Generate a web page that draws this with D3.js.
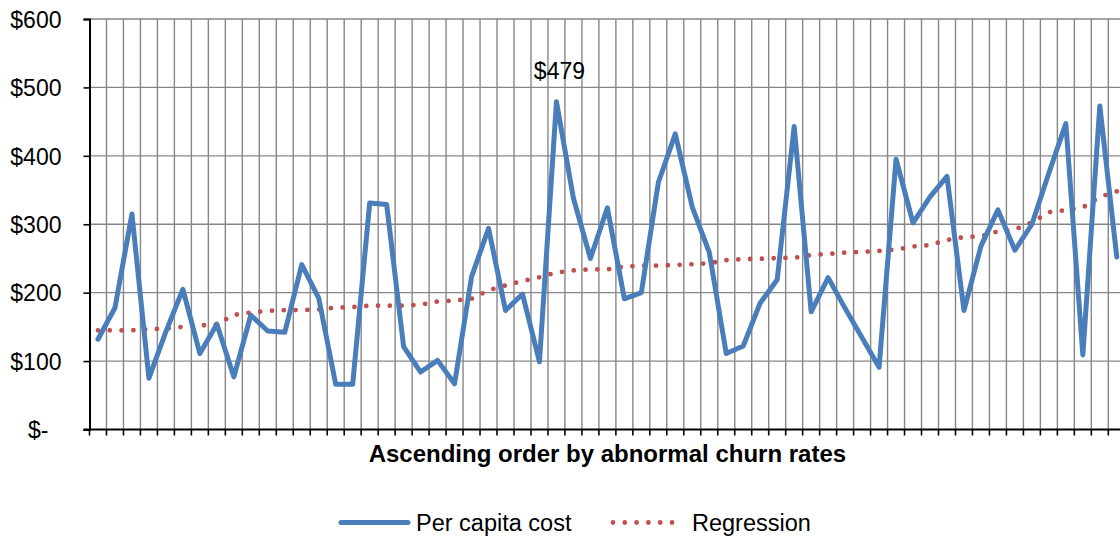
<!DOCTYPE html>
<html>
<head>
<meta charset="utf-8">
<script src="https://cdn.jsdelivr.net/npm/d3@7/dist/d3.min.js"></script>
<style>
  html, body { margin: 0; padding: 0; background: #fff; }
  svg { display: block; font-family: "Liberation Sans", Arial, sans-serif; }
</style>
</head>
<body>
<svg id="chart" width="1120" height="537"></svg>
<script>
// Per capita cost for each group, ordered by ascending abnormal churn rate
const perCapitaCost = [132, 178, 315, 75, 143, 205, 111, 154, 77, 167,
  144, 142, 241, 192, 66, 66, 331, 329, 121, 84,
  101, 67, 223, 294, 174, 198, 99, 479, 338, 250,
  324, 191, 200, 361, 432, 325, 259, 111, 122, 185,
  219, 443, 172, 222, 177, 134, 91, 395, 302, 340,
  370, 174, 268, 321, 262, 300, 375, 447, 109, 473, 252];

// Fitted values from the regression on churn rate
const regression = [145, 145, 145, 146.5, 147.5, 150, 152, 153.5, 167.5, 171,
  173.5, 174.5, 174.5, 175.5, 178, 179, 181, 181, 181, 182.5,
  187, 188.5, 191, 203.5, 210.5, 217, 222.5, 229.5, 232.5, 234,
  234, 238, 239.5, 239.5, 240.5, 241.5, 243, 247.5, 249, 249.5,
  250.5, 251, 255, 256.5, 258.5, 259.5, 261, 263, 267.5, 269.5,
  277, 281, 282.5, 289.5, 292.5, 302.5, 317.5, 320.5, 324.5, 340, 348];

const yTicks = [0, 100, 200, 300, 400, 500, 600];
const seriesNames = ["Per capita cost", "Regression"];
const xTitle = "Ascending order by abnormal churn rates";
const labelledIndex = 27; // the highest cost gets a value label

const colors = { cost: "#4a7ebb", reg: "#c0504d", grid: "#878787" };

const svg = d3.select("#chart");
const plotLeft = 89.5, plotTop = 19, plotBottom = 429.5, step = 16.98;

const x = d3.scaleBand()
  .domain(d3.range(perCapitaCost.length))
  .range([plotLeft, plotLeft + perCapitaCost.length * step])
  .padding(0);
const cx = i => x(i) + x.bandwidth() / 2;

const y = d3.scaleLinear().domain([0, 600]).range([plotBottom, plotTop]);

const fmt = v => v === 0 ? "$-" : "$" + v;

// Horizontal gridlines
svg.append("g").selectAll("line")
  .data(yTicks.filter(t => t > 0))
  .join("line")
  .attr("x1", plotLeft).attr("x2", x.range()[1])
  .attr("y1", d => y(d)).attr("y2", d => y(d))
  .attr("stroke", colors.grid).attr("stroke-width", 1.4);

// Vertical gridlines on category boundaries
svg.append("g").selectAll("line")
  .data(d3.range(1, perCapitaCost.length + 1))
  .join("line")
  .attr("x1", d => plotLeft + d * x.step()).attr("x2", d => plotLeft + d * x.step())
  .attr("y1", plotTop).attr("y2", plotBottom)
  .attr("stroke", colors.grid).attr("stroke-width", 1.4);

// Y axis
const yAxis = svg.append("g")
  .attr("transform", `translate(${plotLeft},0)`)
  .call(d3.axisLeft(y).tickValues(yTicks).tickFormat(fmt).tickSize(6).tickPadding(22));
yAxis.select(".domain").attr("stroke", "#000").attr("stroke-width", 2);
yAxis.selectAll(".tick line").attr("stroke", "#000").attr("stroke-width", 1.6);
yAxis.selectAll(".tick text")
  .attr("fill", "#000")
  .style("font-size", "23px")
  .style("font-family", "'Liberation Sans', Arial, sans-serif")
  .attr("dy", "0.36em")
  .attr("dx", d => d === 0 ? -13 : 0);

// X axis with ticks on category boundaries
const xAxisG = svg.append("g").attr("transform", `translate(0,${plotBottom})`);
xAxisG.append("line")
  .attr("x1", plotLeft - 6).attr("x2", x.range()[1])
  .attr("stroke", "#000").attr("stroke-width", 2);
xAxisG.selectAll("line.tk")
  .data(d3.range(0, perCapitaCost.length + 1))
  .join("line").attr("class", "tk")
  .attr("x1", d => plotLeft + d * x.step()).attr("x2", d => plotLeft + d * x.step())
  .attr("y1", 0).attr("y2", 6)
  .attr("stroke", "#000").attr("stroke-width", 1.6);

// Regression (dotted)
const seriesLine = d3.line().x((d, i) => cx(i)).y(d => y(d));
svg.append("path")
  .datum(regression)
  .attr("d", seriesLine)
  .attr("fill", "none")
  .attr("stroke", colors.reg)
  .attr("stroke-width", 4.8)
  .attr("stroke-linecap", "round")
  .attr("stroke-dasharray", "0 11.8");

// Per capita cost line
svg.append("path")
  .datum(perCapitaCost)
  .attr("d", seriesLine)
  .attr("fill", "none")
  .attr("stroke", colors.cost)
  .attr("stroke-width", 5)
  .attr("stroke-linejoin", "round")
  .attr("stroke-linecap", "round");

// Value label on the peak
svg.append("text")
  .attr("x", cx(labelledIndex) + 3)
  .attr("y", y(perCapitaCost[labelledIndex]) - 23)
  .attr("text-anchor", "middle")
  .style("font-size", "23px")
  .text(fmt(perCapitaCost[labelledIndex]));

// Axis title
svg.append("text")
  .attr("x", (plotLeft + x.range()[1]) / 2)
  .attr("y", 461.5)
  .attr("text-anchor", "middle")
  .style("font-size", "24px")
  .style("font-weight", "bold")
  .text(xTitle);

// Legend
const legend = svg.append("g").attr("transform", "translate(0,522.5)");
legend.append("line")
  .attr("x1", 341).attr("x2", 408)
  .attr("stroke", colors.cost).attr("stroke-width", 5).attr("stroke-linecap", "round");
legend.append("text")
  .attr("x", 416).attr("y", 8)
  .style("font-size", "23.5px")
  .text(seriesNames[0]);
legend.append("line")
  .attr("x1", 613).attr("x2", 674)
  .attr("stroke", colors.reg).attr("stroke-width", 4.8)
  .attr("stroke-linecap", "round").attr("stroke-dasharray", "0 11.8");
legend.append("text")
  .attr("x", 692).attr("y", 8)
  .style("font-size", "23.5px")
  .text(seriesNames[1]);
</script>
</body>
</html>
